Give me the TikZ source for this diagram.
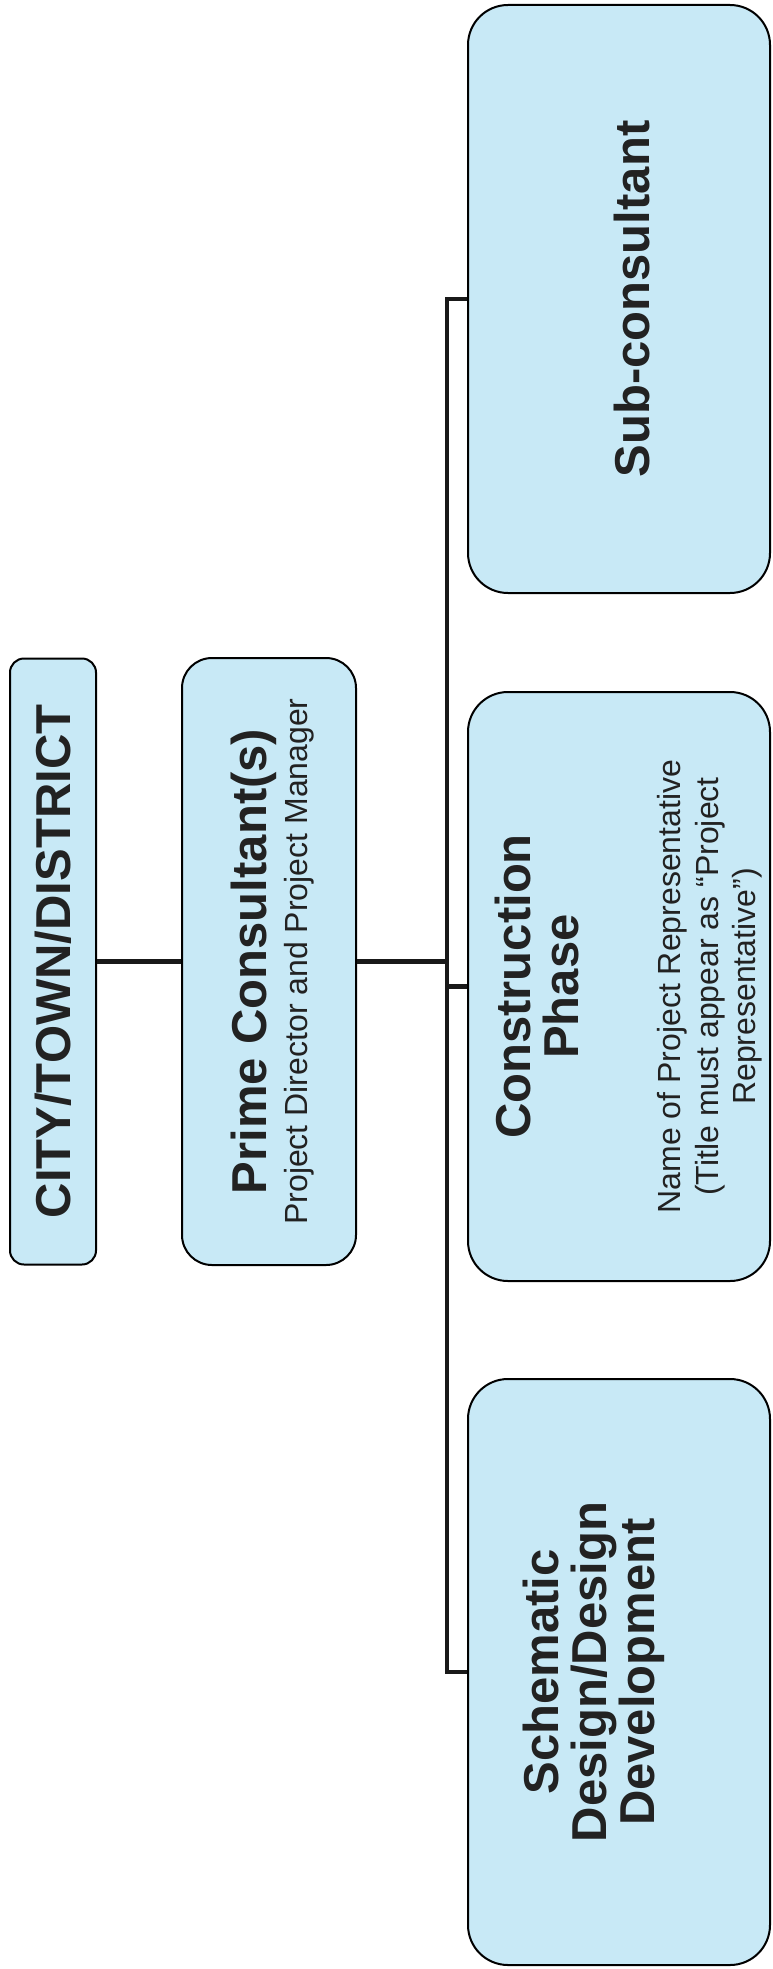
\documentclass[tikz,border=0pt]{standalone}
\usepackage{fontspec}
\setmainfont{Liberation Sans}
\usepackage{xcolor}
\usepackage{graphicx}
\usepackage{tikz}
\usetikzlibrary{calc,positioning}

\definecolor{boxblue}{RGB}{200,233,246}
\definecolor{inkgray}{RGB}{34,34,34}
\newcommand{\titlesize}{\fontsize{24.5}{24}\selectfont\bfseries}
\newcommand{\notesize}{\fontsize{16}{18.75}\selectfont\mdseries}
% text that reads upwards inside a box
\newcommand{\uptext}[2]{\rotatebox{90}{\parbox{#1}{\centering #2}}}

\tikzset{
  orgbox/.style={draw=black, line width=1pt, fill=boxblue, inner sep=0pt, text=inkgray},
  wire/.style={draw=black!90, line width=2.3pt},
}

\begin{document}
\begin{tikzpicture}[x=0.5pt,y=-0.5pt]
  \useasboundingbox (0,0) rectangle (772,1969);
  % top of the chart
  \node[orgbox, rounded corners=7pt, minimum width=43pt, minimum height=303pt]
    (city) at (53,961.5) {\uptext{300pt}{\titlesize CITY/TOWN/DISTRICT\par}};
  \node[orgbox, rounded corners=15pt, minimum width=87pt, minimum height=303.5pt]
    (prime) at (269,961.5) {\uptext{300pt}{\vspace*{4pt}\titlesize Prime Consultant(s)\par
      \vspace{1.75pt}\notesize Project Director and Project Manager\par}};
  % the three branches
  \node[orgbox, rounded corners=20pt, minimum width=151pt, minimum height=294pt]
    (sub) at (619,299) {\uptext{280pt}{\vspace*{13pt}\titlesize Sub-consultant\par}};
  \node[orgbox, rounded corners=20pt, minimum width=151pt, minimum height=294.5pt]
    (constr) at (619,986.5) {\uptext{280pt}{\vspace*{10pt}\titlesize Construction\\Phase\par
      \vspace{32.25pt}\notesize Name of Project Representative\\(Title must appear as “Project\\Representative”)\par}};
  \node[orgbox, rounded corners=20pt, minimum width=151pt, minimum height=293pt]
    (schem) at (619,1672) {\uptext{280pt}{\titlesize Schematic\\Design/Design\\Development\par\vspace{25pt}}};
  % connectors
  \coordinate (busx) at (447,0);
  \draw[wire] (prime.west -| city.east) -- (prime.west);
  \draw[wire] (prime.east) -- (prime.east -| busx);
  \draw[wire] (sub.west) -- (sub.west -| busx) |- (schem.west);
  \draw[wire] (constr.west) -- (constr.west -| busx);
\end{tikzpicture}
\end{document}
